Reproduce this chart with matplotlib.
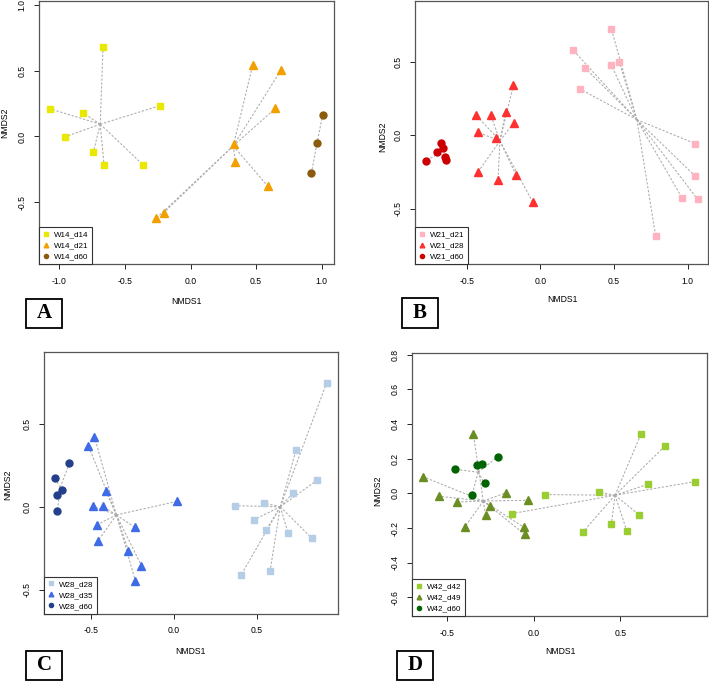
import numpy as np
import matplotlib.pyplot as plt
from matplotlib.lines import Line2D
from matplotlib.patches import Rectangle

plt.rcParams['font.family'] = ['Liberation Sans', 'DejaVu Sans']

W, H = 709, 681

# ---------------- Panel A ----------------
A_groups = ["W14_d14", "W14_d21", "W14_d60"]
A_d14_x = [-0.667, -1.071, -0.817, -0.230, -0.957, -0.741, -0.659, -0.362]
A_d14_y = [0.679, 0.210, 0.177, 0.235, -0.003, -0.122, -0.216, -0.216]
A_d21_x = [0.474, 0.690, 0.647, 0.329, 0.342, 0.591, -0.204, -0.260]
A_d21_y = [0.542, 0.504, 0.213, -0.059, -0.193, -0.380, -0.580, -0.621]
A_d60_x = [1.007, 0.962, 0.921]
A_d60_y = [0.162, -0.051, -0.281]

# ---------------- Panel B ----------------
B_groups = ["W21_d21", "W21_d28", "W21_d60"]
B_d21_x = [0.482, 0.220, 0.306, 0.482, 0.537, 0.270, 1.053, 1.049, 0.963, 1.069, 0.784]
B_d21_y = [0.724, 0.581, 0.455, 0.477, 0.495, 0.314, -0.057, -0.274, -0.426, -0.435, -0.686]
B_d28_x = [-0.183, -0.435, -0.337, -0.235, -0.179, -0.423, -0.299, -0.423, -0.287, -0.165, -0.052]
B_d28_y = [0.339, 0.136, 0.140, 0.156, 0.086, 0.020, -0.018, -0.249, -0.301, -0.270, -0.453]
B_d60_x = [-0.675, -0.663, -0.700, -0.647, -0.643, -0.779]
B_d60_y = [-0.050, -0.088, -0.115, -0.145, -0.168, -0.172]

# ---------------- Panel C ----------------
C_groups = ["W28_d28", "W28_d35", "W28_d60"]
C_d28_x = [0.922, 0.737, 0.865, 0.719, 0.369, 0.544, 0.484, 0.556, 0.689, 0.833, 0.407, 0.580]
C_d28_y = [0.749, 0.343, 0.163, 0.084, 0.008, 0.024, -0.076, -0.139, -0.157, -0.189, -0.408, -0.388]
C_d35_x = [-0.478, -0.514, -0.408, -0.486, -0.428, 0.020, -0.462, -0.458, -0.235, -0.273, -0.195, -0.231]
C_d35_y = [0.424, 0.367, 0.094, 0.004, 0.004, 0.034, -0.107, -0.207, -0.122, -0.263, -0.353, -0.446]
C_d60_x = [-0.629, -0.715, -0.675, -0.701, -0.701]
C_d60_y = [0.263, 0.173, 0.102, 0.072, -0.022]

# ---------------- Panel D ----------------
D_groups = ["W42_d42", "W42_d49", "W42_d60"]
D_d42_x = [0.620, 0.761, 0.935, 0.659, 0.379, 0.063, -0.128, 0.609, 0.449, 0.539, 0.283]
D_d42_y = [0.342, 0.275, 0.068, 0.052, 0.006, -0.007, -0.117, -0.123, -0.176, -0.219, -0.224]
D_d49_x = [-0.350, -0.639, -0.549, -0.444, -0.159, -0.032, -0.252, -0.279, -0.398, -0.057, -0.053]
D_d49_y = [0.342, 0.095, -0.017, -0.050, 0.004, -0.040, -0.074, -0.126, -0.192, -0.196, -0.236]
D_d60_x = [-0.209, -0.454, -0.329, -0.298, -0.284, -0.358]
D_d60_y = [0.210, 0.139, 0.162, 0.169, 0.058, -0.011]

A_colors = ["#E8E800", "#F2A000", "#8B5A0C"]
B_colors = ["#FFB3C1", "#FF3030", "#CC0000"]
C_colors = ["#B5CDE6", "#3F6BE6", "#24408C"]
D_colors = ["#9ACD32", "#6B8E23", "#006400"]
markers = ["s", "^", "o"]
msizes = [4.6, 5.6, 5.0]

A_xticks = [-1.0, -0.5, 0.0, 0.5, 1.0]; A_yticks = [-0.5, 0.0, 0.5, 1.0]
B_xticks = [-0.5, 0.0, 0.5, 1.0]; B_yticks = [-0.5, 0.0, 0.5]
C_xticks = [-0.5, 0.0, 0.5]; C_yticks = [-0.5, 0.0, 0.5]
D_xticks = [-0.5, 0.0, 0.5]; D_yticks = [-0.6, -0.4, -0.2, 0.0, 0.2, 0.4, 0.6, 0.8]

fig = plt.figure(figsize=(W / 100, H / 100), dpi=100)


def px_axes(l, t, r, b):
    return fig.add_axes([l / W, 1 - b / H, (r - l) / W, (b - t) / H])


def panel(box, xlim, ylim, groups, data, colors, xticks, yticks):
    ax = px_axes(*box)
    ax.set_xlim(*xlim)
    ax.set_ylim(*ylim)
    for (xs, ys), c in zip(data, colors):
        cx, cy = np.mean(xs), np.mean(ys)
        for x, y in zip(xs, ys):
            ax.plot([cx, x], [cy, y], color="#ababab", lw=0.75,
                    ls=(0, (2.2, 1.6)), zorder=1)
    for (xs, ys), c, m, s in zip(data, colors, markers, msizes):
        ax.plot(xs, ys, ls="none", marker=m, ms=s, color=c, mec=c, zorder=3)
    ax.set_xticks(xticks)
    ax.set_yticks(yticks)
    ax.set_xticklabels([f"{v:.1f}" for v in xticks])
    ax.set_yticklabels([f"{v:.1f}" for v in yticks])
    for lab in ax.get_yticklabels():
        lab.set_rotation(90)
        lab.set_va("center")
    ax.tick_params(labelsize=6.2, length=3.6, width=0.7, pad=5.5, color="#222222")
    for sp in ax.spines.values():
        sp.set_color("#555555")
        sp.set_linewidth(0.9)
    handles = [Line2D([], [], ls="none", marker=m, ms=s * 0.6, color=c)
               for m, s, c in zip(markers, msizes, colors)]
    leg = ax.legend(handles, groups, loc="lower left", borderaxespad=0,
                    fontsize=5.8, fancybox=False, framealpha=1,
                    edgecolor="#333333", handlelength=0.8, handletextpad=0.6,
                    labelspacing=0.42, borderpad=0.45)
    leg.get_frame().set_linewidth(0.8)
    return ax


panel((39, 1, 334, 264), (-1.155, 1.094), (-0.97, 1.03), A_groups,
      [(A_d14_x, A_d14_y), (A_d21_x, A_d21_y), (A_d60_x, A_d60_y)],
      A_colors, A_xticks, A_yticks)
panel((415.3, 1, 708.3, 264), (-0.849, 1.141), (-0.874, 0.912), B_groups,
      [(B_d21_x, B_d21_y), (B_d28_x, B_d28_y), (B_d60_x, B_d60_y)],
      B_colors, B_xticks, B_yticks)
panel((44.3, 351.7, 337.7, 613.7), (-0.78, 0.988), (-0.643, 0.936), C_groups,
      [(C_d28_x, C_d28_y), (C_d35_x, C_d35_y), (C_d60_x, C_d60_y)],
      C_colors, C_xticks, C_yticks)
panel((412.3, 353.3, 707, 616), (-0.703, 1.002), (-0.707, 0.807), D_groups,
      [(D_d42_x, D_d42_y), (D_d49_x, D_d49_y), (D_d60_x, D_d60_y)],
      D_colors, D_xticks, D_yticks)

# axis titles
xl = [(186, 301), (562, 300), (190, 651), (560, 652)]
yl = [(5, 123), (383, 137), (8, 485), (378, 491)]
for (x, y) in xl:
    fig.text(x / W, 1 - y / H, "NMDS1", fontsize=6.2, ha="center", va="center")
for (x, y) in yl:
    fig.text(x / W, 1 - y / H, "NMDS2", fontsize=6.2, ha="center", va="center",
             rotation=90)

# panel letters
letters = ["A", "B", "C", "D"]
lboxes = [(26, 299, 62, 328), (402, 298, 438, 328), (26, 651, 62, 680),
          (397, 651, 433, 680)]
for letter, (l, t, r, b) in zip(letters, lboxes):
    fig.add_artist(Rectangle((l / W, 1 - b / H), (r - l) / W, (b - t) / H,
                             transform=fig.transFigure, fill=False,
                             edgecolor="black", lw=1.3))
    fig.text((l + r) / 2 / W, 1 - (t + b) / 2 / H, letter,
             family=["Liberation Serif", "DejaVu Serif"], weight="bold",
             fontsize=15, ha="center", va="center")

fig.savefig("out.png", dpi=100)
